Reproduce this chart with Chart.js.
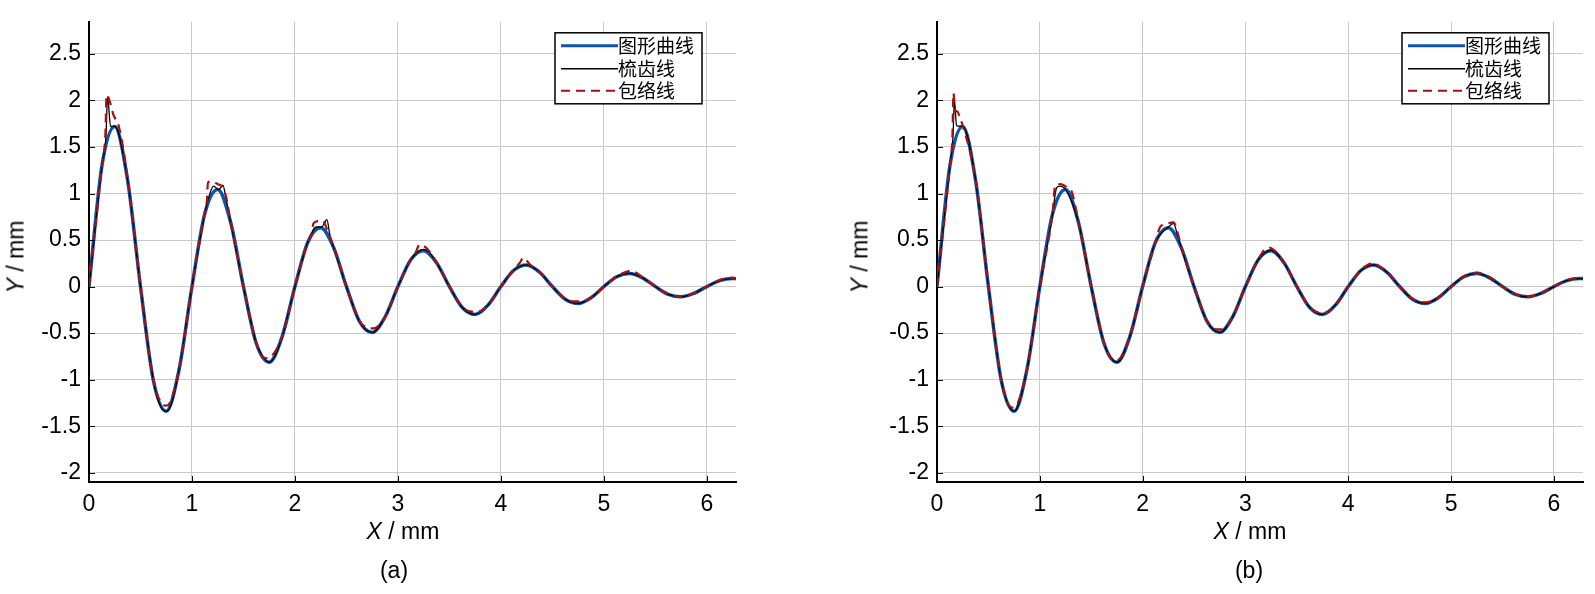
<!DOCTYPE html>
<html lang="zh">
<head>
  <meta charset="UTF-8" />
  <title>图形曲线 / 梳齿线 / 包络线</title>
  <script src="https://cdn.jsdelivr.net/npm/chart.js"></script>
  <style>
    body {
      margin: 0;
      width: 1595px;
      height: 594px;
      background: #fff;
      position: relative;
      overflow: hidden;
      font-family: Arial, 'Liberation Sans', sans-serif;
    }
    .plot { position: absolute; top: 0; height: 594px; }
    .lbl {
      position: absolute;
      font-size: 23px;
      color: #000;
      white-space: nowrap;
      transform: translate(-50%, -50%);
    }
    .ylbl { transform: translate(-50%, -50%) rotate(-90deg); }
  </style>
</head>
<body>
  <div class="plot" style="left:0;width:760px"><canvas id="chartA"></canvas></div>
  <div class="plot" style="left:848px;width:747px"><canvas id="chartB"></canvas></div>

  <div class="lbl" style="left:403px;top:531px"><i>X</i> / mm</div>
  <div class="lbl" style="left:394px;top:570px">(a)</div>
  <div class="lbl ylbl" style="left:16px;top:257px"><i>Y</i> / mm</div>

  <div class="lbl" style="left:1250px;top:531px"><i>X</i> / mm</div>
  <div class="lbl" style="left:1249px;top:570px">(b)</div>
  <div class="lbl ylbl" style="left:860px;top:257px"><i>Y</i> / mm</div>

  <script>
    const X_TICKS = [0, 1, 2, 3, 4, 5, 6];
    const Y_TICKS = [-2, -1.5, -1, -0.5, 0, 0.5, 1, 1.5, 2, 2.5];
    const SERIES_NAMES = ['图形曲线', '梳齿线', '包络线'];

    // 图形曲线 (same in both panels)
    const CURVE_X = [0, 0.125, 0.25, 0.375, 0.5, 0.625, 0.75, 0.875, 1, 1.125, 1.25, 1.375, 1.5, 1.625, 1.75, 1.875,
      2, 2.125, 2.25, 2.375, 2.5, 2.625, 2.75, 2.875, 3, 3.125, 3.25, 3.375, 3.5, 3.625, 3.75, 3.875,
      4, 4.125, 4.25, 4.375, 4.5, 4.625, 4.75, 4.875, 5, 5.125, 5.25, 5.375, 5.5, 5.625, 5.75, 5.875,
      6, 6.125, 6.25, 6.283];
    const CURVE_Y = [0, 1.295, 1.721, 1.143, 0, -1.009, -1.34, -0.89, 0, 0.786, 1.044, 0.693, 0, -0.612, -0.813, -0.54,
      0, 0.477, 0.633, 0.421, 0, -0.371, -0.493, -0.327, 0, 0.289, 0.384, 0.255, 0, -0.225, -0.299, -0.199,
      0, 0.175, 0.233, 0.155, 0, -0.136, -0.181, -0.12, 0, 0.106, 0.141, 0.094, 0, -0.083, -0.11, -0.073,
      0, 0.064, 0.086, 0.085];

    // 梳齿线 (a)
    const COMB_A_X = [0, 0.125, 0.165, 0.18, 0.21, 0.25, 0.375, 0.5, 0.625, 0.7, 0.75, 0.8, 0.875,
      1, 1.125, 1.18, 1.21, 1.26, 1.3, 1.33, 1.375, 1.5, 1.625, 1.7, 1.75, 1.8, 1.875,
      2, 2.125, 2.21, 2.26, 2.31, 2.34, 2.375, 2.5, 2.625, 2.75, 2.875,
      3, 3.125, 3.2, 3.25, 3.3, 3.375, 3.5, 3.625, 3.75, 3.875,
      4, 4.125, 4.25, 4.375, 4.5, 4.625, 4.75, 4.875, 5, 5.125, 5.25, 5.375, 5.5, 5.625, 5.75, 5.875,
      6, 6.125, 6.25, 6.283];
    const COMB_A_Y = [0, 1.295, 1.62, 2.04, 1.72, 1.721, 1.143, 0, -1.009, -1.3, -1.34, -1.26, -0.89,
      0, 0.786, 1.02, 1.08, 1.04, 1.09, 0.95, 0.693, 0, -0.612, -0.77, -0.813, -0.76, -0.54,
      0, 0.477, 0.64, 0.64, 0.72, 0.55, 0.421, 0, -0.371, -0.493, -0.327,
      0, 0.289, 0.38, 0.4, 0.37, 0.255, 0, -0.225, -0.299, -0.199,
      0, 0.175, 0.233, 0.155, 0, -0.136, -0.181, -0.12, 0, 0.106, 0.141, 0.094, 0, -0.083, -0.11, -0.073,
      0, 0.064, 0.086, 0.085];

    // 包络线 (a)
    const ENV_A_X = [0, 0.125, 0.16, 0.17, 0.21, 0.235, 0.29, 0.375, 0.5, 0.625, 0.72, 0.75, 0.78, 0.875,
      1, 1.125, 1.145, 1.155, 1.2, 1.25, 1.29, 1.33, 1.375, 1.5, 1.625, 1.68, 1.73, 1.875,
      2, 2.125, 2.165, 2.18, 2.27, 2.31, 2.375, 2.5, 2.625, 2.7, 2.76, 2.875,
      3, 3.125, 3.17, 3.21, 3.28, 3.375, 3.5, 3.625, 3.72, 3.78, 3.875,
      4, 4.125, 4.18, 4.22, 4.28, 4.375, 4.5, 4.625, 4.72, 4.78, 4.875,
      5, 5.125, 5.2, 5.26, 5.375, 5.5, 5.625, 5.75, 5.875, 6, 6.125, 6.25, 6.283];
    const ENV_A_Y = [0, 1.295, 1.66, 2.06, 1.96, 1.85, 1.72, 1.16, 0, -1.0, -1.27, -1.28, -1.26, -0.89,
      0, 0.8, 0.92, 1.12, 1.13, 1.1, 1.08, 0.97, 0.7, 0, -0.61, -0.75, -0.77, -0.54,
      0, 0.48, 0.58, 0.68, 0.71, 0.62, 0.43, 0, -0.37, -0.44, -0.45, -0.33,
      0, 0.29, 0.36, 0.45, 0.41, 0.26, 0, -0.22, -0.27, -0.27, -0.2,
      0, 0.18, 0.25, 0.31, 0.24, 0.16, 0, -0.13, -0.16, -0.16, -0.12,
      0, 0.11, 0.15, 0.17, 0.1, 0, -0.08, -0.11, -0.07, 0, 0.07, 0.095, 0.09];

    // 梳齿线 (b)
    const COMB_B_X = [0, 0.125, 0.155, 0.17, 0.19, 0.25, 0.375, 0.5, 0.625, 0.75, 0.875,
      1, 1.125, 1.16, 1.19, 1.25, 1.375, 1.5, 1.625, 1.75, 1.875,
      2, 2.125, 2.25, 2.3, 2.34, 2.375, 2.5, 2.625, 2.75, 2.875,
      3, 3.125, 3.25, 3.375, 3.5, 3.625, 3.75, 3.875,
      4, 4.125, 4.25, 4.375, 4.5, 4.625, 4.75, 4.875, 5, 5.125, 5.25, 5.375, 5.5, 5.625, 5.75, 5.875,
      6, 6.125, 6.25, 6.283];
    const COMB_B_Y = [0, 1.295, 1.6, 2.0, 1.73, 1.721, 1.143, 0, -1.009, -1.34, -0.89,
      0, 0.786, 1.05, 1.08, 1.044, 0.693, 0, -0.612, -0.813, -0.54,
      0, 0.477, 0.64, 0.68, 0.55, 0.421, 0, -0.371, -0.493, -0.327,
      0, 0.289, 0.39, 0.255, 0, -0.225, -0.299, -0.199,
      0, 0.175, 0.233, 0.155, 0, -0.136, -0.181, -0.12, 0, 0.106, 0.141, 0.094, 0, -0.083, -0.11, -0.073,
      0, 0.064, 0.086, 0.085];

    // 包络线 (b)
    const ENV_B_X = [0, 0.125, 0.15, 0.16, 0.175, 0.2, 0.22, 0.25, 0.375, 0.5, 0.625, 0.73, 0.77, 0.875,
      1, 1.125, 1.15, 1.2, 1.27, 1.31, 1.375, 1.5, 1.625, 1.7, 1.75, 1.875,
      2, 2.125, 2.17, 2.22, 2.3, 2.34, 2.375, 2.5, 2.625, 2.72, 2.77, 2.875,
      3, 3.125, 3.18, 3.23, 3.28, 3.375, 3.5, 3.625, 3.75, 3.875,
      4, 4.125, 4.2, 4.25, 4.3, 4.375, 4.5, 4.625, 4.75, 4.875,
      5, 5.125, 5.25, 5.375, 5.5, 5.625, 5.75, 5.875, 6, 6.125, 6.25, 6.283];
    const ENV_B_Y = [0, 1.295, 1.62, 2.08, 1.9, 1.88, 1.82, 1.73, 1.15, 0, -1.0, -1.3, -1.28, -0.89,
      0, 0.8, 1.09, 1.1, 1.06, 1.02, 0.7, 0, -0.61, -0.78, -0.79, -0.54,
      0, 0.48, 0.64, 0.67, 0.69, 0.58, 0.43, 0, -0.37, -0.46, -0.46, -0.33,
      0, 0.29, 0.39, 0.42, 0.39, 0.26, 0, -0.22, -0.29, -0.2,
      0, 0.18, 0.24, 0.25, 0.22, 0.16, 0, -0.13, -0.17, -0.12,
      0, 0.11, 0.15, 0.1, 0, -0.08, -0.11, -0.07, 0, 0.07, 0.09, 0.09];

    const BLUE = '#0b56a8';
    const BLACK = '#000000';
    const RED = '#a80f0f';
    const GRID = '#c9c9c9';
    const TICK_FONT = { family: "Arial, 'Liberation Sans', sans-serif", size: 23 };

    function pts(xs, ys) {
      if (xs.length !== ys.length) throw new Error('length mismatch ' + xs.length + ' / ' + ys.length);
      return xs.map((x, i) => ({ x: x, y: ys[i] }));
    }

    // legend box + inward tick marks, drawn on top
    const extras = {
      id: 'extras',
      afterDraw(chart) {
        const ctx = chart.ctx;
        const a = chart.chartArea;
        const xs = chart.scales.x, ys = chart.scales.y;
        ctx.save();
        ctx.strokeStyle = '#000';
        ctx.lineWidth = 1;
        ctx.beginPath();
        X_TICKS.forEach(v => {
          const px = Math.round(xs.getPixelForValue(v)) + 0.5;
          ctx.moveTo(px, a.bottom);
          ctx.lineTo(px, a.bottom - 6);
        });
        Y_TICKS.forEach(v => {
          const py = Math.round(ys.getPixelForValue(v)) + 0.5;
          ctx.moveTo(a.left, py);
          ctx.lineTo(a.left + 6, py);
        });
        ctx.stroke();

        const bw = 147, bh = 71;
        const bx = a.right - 34 - bw, by = a.top + 11;
        ctx.fillStyle = '#fff';
        ctx.fillRect(bx, by, bw, bh);
        ctx.lineWidth = 1.5;
        ctx.strokeRect(bx, by, bw, bh);

        const styles = [
          { color: BLUE, width: 3, dash: [] },
          { color: BLACK, width: 1.5, dash: [] },
          { color: RED, width: 2, dash: [9, 6] }
        ];
        const rows = [by + 13, by + 36, by + 58];
        ctx.font = "19px 'Noto Sans CJK SC', sans-serif";
        ctx.textBaseline = 'middle';
        SERIES_NAMES.forEach((name, i) => {
          const s = styles[i];
          ctx.strokeStyle = s.color;
          ctx.lineWidth = s.width;
          ctx.setLineDash(s.dash);
          ctx.beginPath();
          ctx.moveTo(bx + 6, rows[i]);
          ctx.lineTo(bx + 63, rows[i]);
          ctx.stroke();
          ctx.setLineDash([]);
          ctx.fillStyle = '#000';
          ctx.fillText(name, bx + 63, rows[i]);
        });
        ctx.restore();
      }
    };

    function makeChart(id, rightPad, combX, combY, envX, envY) {
      return new Chart(document.getElementById(id), {
        type: 'line',
        data: {
          datasets: [
            { label: SERIES_NAMES[2], data: pts(envX, envY), borderColor: RED, borderWidth: 2.2, borderDash: [9, 6] },
            { label: SERIES_NAMES[1], data: pts(combX, combY), borderColor: BLACK, borderWidth: 1.3 },
            { label: SERIES_NAMES[0], data: pts(CURVE_X, CURVE_Y), borderColor: BLUE, borderWidth: 3.5 }
          ]
        },
        options: {
          responsive: true,
          maintainAspectRatio: false,
          animation: false,
          events: [],
          layout: { padding: { top: 12, right: rightPad, left: 0, bottom: 0 } },
          elements: {
            point: { radius: 0 },
            line: { cubicInterpolationMode: 'monotone', fill: false }
          },
          plugins: { legend: { display: false }, tooltip: { enabled: false } },
          scales: {
            x: {
              type: 'linear',
              min: 0,
              max: 6.2832,
              afterBuildTicks: s => { s.ticks = X_TICKS.map(v => ({ value: v })); },
              afterFit: s => { s.height = 112; },
              grid: { color: GRID, lineWidth: 1, drawTicks: false },
              border: { display: true, color: '#000', width: 2 },
              ticks: { color: '#000', font: TICK_FONT, padding: 9, maxRotation: 0, callback: v => String(v) }
            },
            y: {
              type: 'linear',
              min: -2.1,
              max: 2.845,
              afterBuildTicks: s => { s.ticks = Y_TICKS.map(v => ({ value: v })); },
              afterFit: s => { s.width = 89; },
              grid: { color: GRID, lineWidth: 1, drawTicks: false },
              border: { display: true, color: '#000', width: 2 },
              ticks: { color: '#000', font: TICK_FONT, padding: 8, callback: v => String(v) }
            }
          }
        },
        plugins: [extras]
      });
    }

    makeChart('chartA', 24, COMB_A_X, COMB_A_Y, ENV_A_X, ENV_A_Y);
    makeChart('chartB', 12, COMB_B_X, COMB_B_Y, ENV_B_X, ENV_B_Y);
  </script>
</body>
</html>
